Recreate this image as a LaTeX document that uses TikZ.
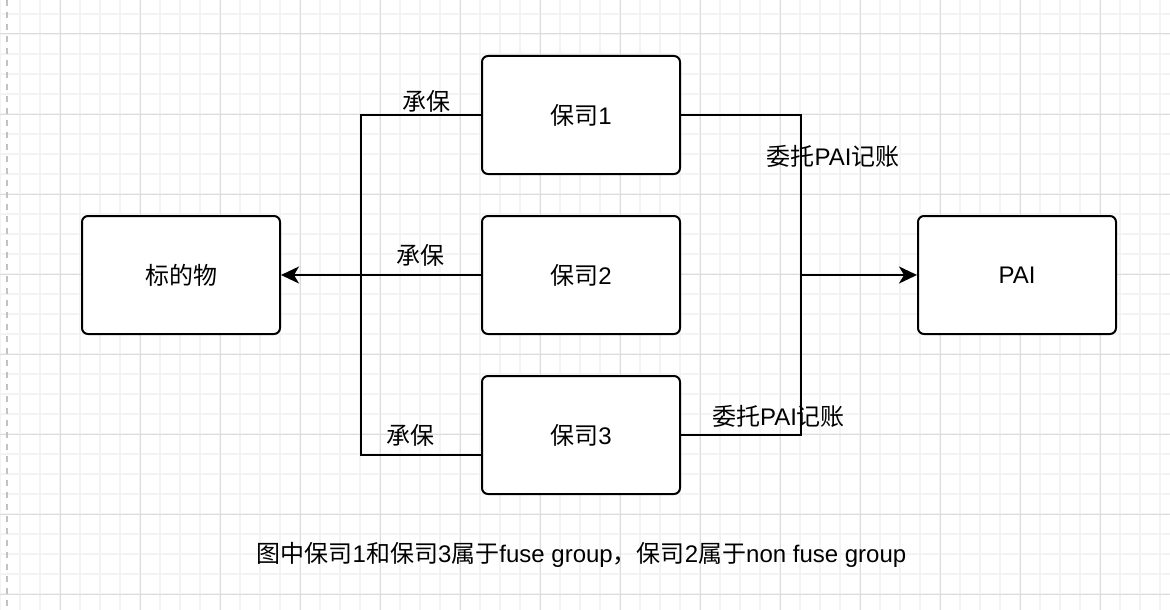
\documentclass[tikz,border=0pt]{standalone}
\usepackage{fontspec}
\setmainfont{Liberation Sans}
\newfontfamily\cjk{Noto Sans CJK SC}
\newcommand{\zh}[1]{{\cjk #1}}
\usetikzlibrary{arrows.meta,calc}

\definecolor{gridminor}{HTML}{F3F3F3}
\definecolor{gridmajor}{HTML}{DCDCDC}
\definecolor{pagedash}{HTML}{C2C2C2}

\tikzset{
    party/.style={draw=black, line width=2pt, fill=white, rounded corners=6pt,
        minimum width=198pt, minimum height=118pt, inner sep=0pt,
        font=\fontsize{24}{28}\selectfont},
    link/.style={draw=black, line width=2pt},
    linkarrow/.style={link, -{Stealth[length=18pt, width=17pt, inset=5pt]}},
    tag/.style={inner sep=0pt, font=\fontsize{24}{28}\selectfont}
}

\begin{document}
\begin{tikzpicture}[x=1pt, y=-1pt]
        \useasboundingbox (0,0) rectangle (1170,610);
        \fill[white] (0,0) rectangle (1170,610);

        \foreach \gx in {0,20,...,1160}
            \draw[gridminor, line width=1.5pt] (\gx,0) -- (\gx,610);
        \foreach \gy in {14,34,...,594}
            \draw[gridminor, line width=1.5pt] (0,\gy) -- (1170,\gy);
        \foreach \gx in {60,140,...,1140}
            \draw[gridmajor, line width=1pt] (\gx,0) -- (\gx,610);
        \foreach \gy in {34,114,...,594}
            \draw[gridmajor, line width=1pt] (0,\gy) -- (1170,\gy);

        \draw[pagedash, line width=2pt, dash pattern=on 6pt off 6pt] (7,0) -- (7,610);

        \node[party] (obj) at (181,275) {\zh{标的物}};
        \node[party] (ins1) at (581,115) {\zh{保司}1};
        \node[party] (ins2) at (581,275) {\zh{保司}2};
        \node[party] (ins3) at (581,435) {\zh{保司}3};
        \node[party] (pai) at (1017,275) {PAI};

        \coordinate (uw) at (361,275);
        \coordinate (acc) at (801,275);

        \draw[link] (ins1.west) -| (uw) |- ($(ins3.west)+(0,20)$);
        \draw[linkarrow] (ins2.west) -- (obj.east);
        \draw[link] (ins1.east) -| (acc) |- (ins3.east);
        \draw[linkarrow] (acc) -- (pai.west);

        \node[tag] (uw1) at (426,101) {\zh{承保}};
        \node[tag] (uw2) at (420,255) {\zh{承保}};
        \node[tag] (uw3) at (410,435.5) {\zh{承保}};
        \node[tag] (acc1) at (833,156) {\zh{委托}PAI\zh{记账}};
        \node[tag] (acc3) at (778.5,416) {\zh{委托}PAI\zh{记账}};

        \node[tag, anchor=base] (note) at (581.5,562)
            {\zh{图中保司}1\zh{和保司}3\zh{属于}fuse group\zh{，保司}2\zh{属于}non fuse group};
    \end{tikzpicture}
\end{document}
